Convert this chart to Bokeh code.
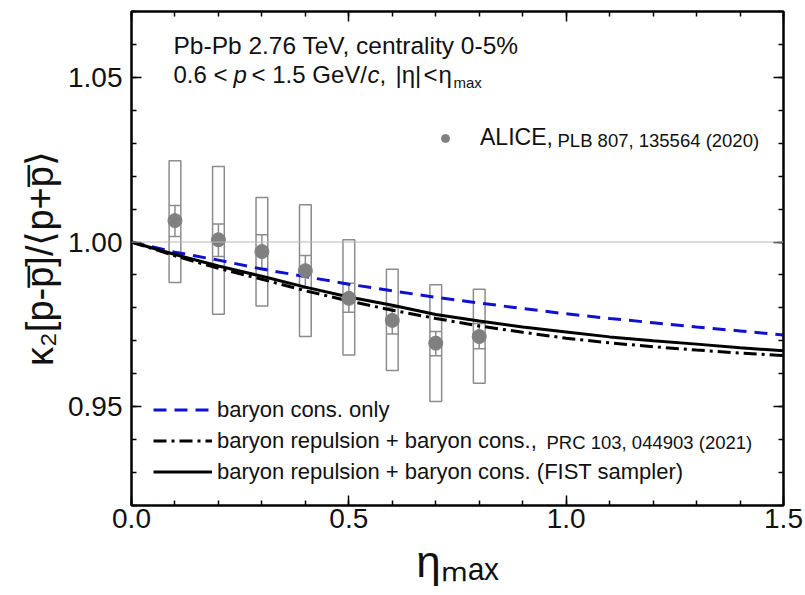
import numpy as np
from bokeh.plotting import figure
from bokeh.models import (LinearAxis, FixedTicker, PrintfTickFormatter, Label, Legend,
                          LegendItem, Whisker, ColumnDataSource, Span, TeeHead,
                          CustomLabelingPolicy)
from bokeh.embed import file_html
from bokeh.resources import INLINE

# ---------------- data ----------------
eta_data = [0.1, 0.2, 0.3, 0.4, 0.5, 0.6, 0.7, 0.8]
kappa_data = [1.0065, 1.0007, 0.9971, 0.9913, 0.9829, 0.9762, 0.9693, 0.9713]
stat_hi = [1.0111, 1.0055, 1.0022, 0.9959, 0.9875, 0.9801, 0.9728, 0.9753]
stat_lo = [1.0017, 0.9956, 0.9920, 0.9860, 0.9787, 0.9721, 0.9655, 0.9676]
sys_hi = [1.0247, 1.0229, 1.0135, 1.0113, 1.0007, 0.9917, 0.9870, 0.9857]
sys_lo = [0.9877, 0.9781, 0.9806, 0.9713, 0.9657, 0.9610, 0.9516, 0.9571]

eta_model = [0.0, 0.1, 0.2, 0.3, 0.4, 0.5, 0.6, 0.7, 0.8, 0.9, 1.0, 1.1, 1.2, 1.3, 1.4, 1.5]
bc_only = [1.0, 0.9969, 0.9945, 0.9918, 0.9895, 0.9872, 0.9852, 0.9832, 0.9815,
           0.9798, 0.9782, 0.9768, 0.9755, 0.9742, 0.9730, 0.9718]
br_bc = [1.0, 0.9958, 0.9920, 0.9887, 0.9852, 0.9821, 0.9793, 0.9768, 0.9745,
         0.9726, 0.9708, 0.9694, 0.9682, 0.9672, 0.9663, 0.9655]
br_bc_fist = [1.0, 0.9962, 0.9927, 0.9896, 0.9863, 0.9833, 0.9808, 0.9780, 0.9760,
              0.9742, 0.9727, 0.9712, 0.9700, 0.9690, 0.9679, 0.9670]

x_ticks = [0.0, 0.5, 1.0, 1.5]
y_ticks = [0.95, 1.00, 1.05]
x_range = (0.0, 1.5)
y_range = (0.92, 1.07)

FONT = "Liberation Sans"
GRAY = "#808080"
BOXGRAY = "#8c8c8c"

# ---------------- figure ----------------
p = figure(frame_width=652, frame_height=494, x_range=x_range, y_range=y_range,
           output_backend="svg", toolbar_location=None,
           min_border_left=131, min_border_right=7, min_border_top=10, min_border_bottom=81)
p.xgrid.visible = False
p.ygrid.visible = False
p.outline_line_color = "black"
p.outline_line_width = 2
p.background_fill_color = "white"
p.border_fill_color = "white"

x_minor = list(np.round(np.arange(x_range[0], x_range[1] + 1e-9, 0.1), 3))
y_minor = list(np.round(np.arange(y_range[0], y_range[1] + 1e-9, 0.01), 3))
xt = FixedTicker(ticks=x_ticks, minor_ticks=x_minor)
yt = FixedTicker(ticks=y_ticks, minor_ticks=y_minor)

no_labels = CustomLabelingPolicy(code="""
const all = [...indices]
for (const i of all) indices.unset(i)
return indices
""")


def style(ax, show_labels):
    ax.axis_line_width = 2
    ax.axis_line_color = "black"
    ax.major_tick_in = 10
    ax.major_tick_out = 0
    ax.minor_tick_in = 5
    ax.minor_tick_out = 0
    ax.major_tick_line_width = 1.5
    ax.minor_tick_line_width = 1.5
    ax.major_tick_line_color = "black"
    ax.minor_tick_line_color = "black"
    ax.axis_label_text_font = FONT
    ax.axis_label_text_font_style = "normal"
    ax.axis_label_text_color = "#111111"
    if show_labels:
        ax.major_label_text_font = FONT
        ax.major_label_text_font_size = "28px"
        ax.major_label_text_color = "#111111"
    else:
        ax.major_label_policy = no_labels
        ax.major_label_standoff = 0


p.xaxis.ticker = xt
p.yaxis.ticker = yt
p.xaxis.formatter = PrintfTickFormatter(format="%.1f")
p.yaxis.formatter = PrintfTickFormatter(format="%.2f")
style(p.xaxis[0], True)
style(p.yaxis[0], True)
p.xaxis.major_label_standoff = 3
p.yaxis.major_label_standoff = 9

p.xaxis.axis_label = "\u03b7\u2098\u2090\u2093"
p.xaxis.axis_label_text_font_size = "44px"
p.xaxis.axis_label_standoff = 6
p.yaxis.axis_label = "\u03ba\u2082[p-p\u0305]/\u27e8p+p\u0305\u27e9"
p.yaxis.axis_label_text_font_size = "38px"
p.yaxis.axis_label_standoff = 4

top_ax = LinearAxis(ticker=xt)
right_ax = LinearAxis(ticker=yt)
style(top_ax, False)
style(right_ax, False)
p.add_layout(top_ax, "above")
p.add_layout(right_ax, "right")

# reference line at unity
p.add_layout(Span(location=1.0, dimension="width", line_color="#b8b8b8", line_width=1))

# ---------------- data marks ----------------
src = ColumnDataSource(dict(x=eta_data, y=kappa_data, slo=stat_lo, shi=stat_hi,
                            ylo=sys_lo, yhi=sys_hi,
                            l=[v - 0.0135 for v in eta_data], r=[v + 0.0135 for v in eta_data]))
p.quad(left="l", right="r", bottom="ylo", top="yhi", source=src,
       fill_color=None, line_color=BOXGRAY, line_width=1.5)
p.add_layout(Whisker(base="x", lower="slo", upper="shi", source=src,
                     line_color=BOXGRAY, line_width=1.5,
                     upper_head=TeeHead(size=12, line_color=BOXGRAY, line_width=1.5),
                     lower_head=TeeHead(size=12, line_color=BOXGRAY, line_width=1.5)))

r_bc = p.line(eta_model, bc_only, line_color="#1010d0", line_width=3, line_dash="13 8")
r_br = p.line(eta_model, br_bc, line_color="black", line_width=3, line_dash="13 5 3 5")
r_fist = p.line(eta_model, br_bc_fist, line_color="black", line_width=3)

r_pts = p.scatter("x", "y", source=src, size=14, marker="circle",
                  fill_color=GRAY, line_color=GRAY)

# ---------------- legends ----------------
leg1 = Legend(items=[LegendItem(label="ALICE,", renderers=[r_pts])],
              location=(304, 354), glyph_width=20, glyph_height=20, label_height=20,
              label_standoff=25, padding=0, margin=0, spacing=0,
              border_line_color=None, background_fill_alpha=0,
              label_text_font=FONT, label_text_font_size="23px", label_text_color="#111111")
p.add_layout(leg1)

leg2 = Legend(items=[LegendItem(label="baryon cons. only", renderers=[r_bc]),
                     LegendItem(label="baryon repulsion + baryon cons.,", renderers=[r_br]),
                     LegendItem(label="baryon repulsion + baryon cons. (FIST sampler)", renderers=[r_fist])],
              location=(22, 18), glyph_width=59, glyph_height=31, label_height=31,
              label_standoff=5, padding=0, margin=0, spacing=0,
              border_line_color=None, background_fill_alpha=0,
              label_text_font=FONT, label_text_font_size="22px", label_text_color="#111111")
p.add_layout(leg2)


def lab(text, x, y, size, style="normal"):
    p.add_layout(Label(text=text, x=x, y=y, x_units="screen", y_units="screen",
                       text_font=FONT, text_font_size=size, text_font_style=style,
                       text_color="#111111", text_baseline="middle", text_align="left"))


lab("PLB 807, 135564 (2020)", 426, 365, "18.5px")
lab("PRC 103, 044903 (2021)", 415, 63, "18.5px")

# header text
lab("Pb-Pb 2.76 TeV, centrality 0-5%", 42, 460, "24.5px")
lab("0.6 <", 42, 431, "24px")
lab("p", 102, 431, "24px", style="italic")
lab("< 1.5 GeV/", 120, 431, "24px")
lab("c", 236, 431, "24px", style="italic")
lab(",", 248, 431, "24px")
lab("|\u03b7|", 264, 431, "24px")
lab("<", 292, 431, "24px")
lab("\u03b7", 307, 431, "24px")
lab("max", 322, 423, "15px")

open("out.html", "w").write(file_html(p, INLINE))
